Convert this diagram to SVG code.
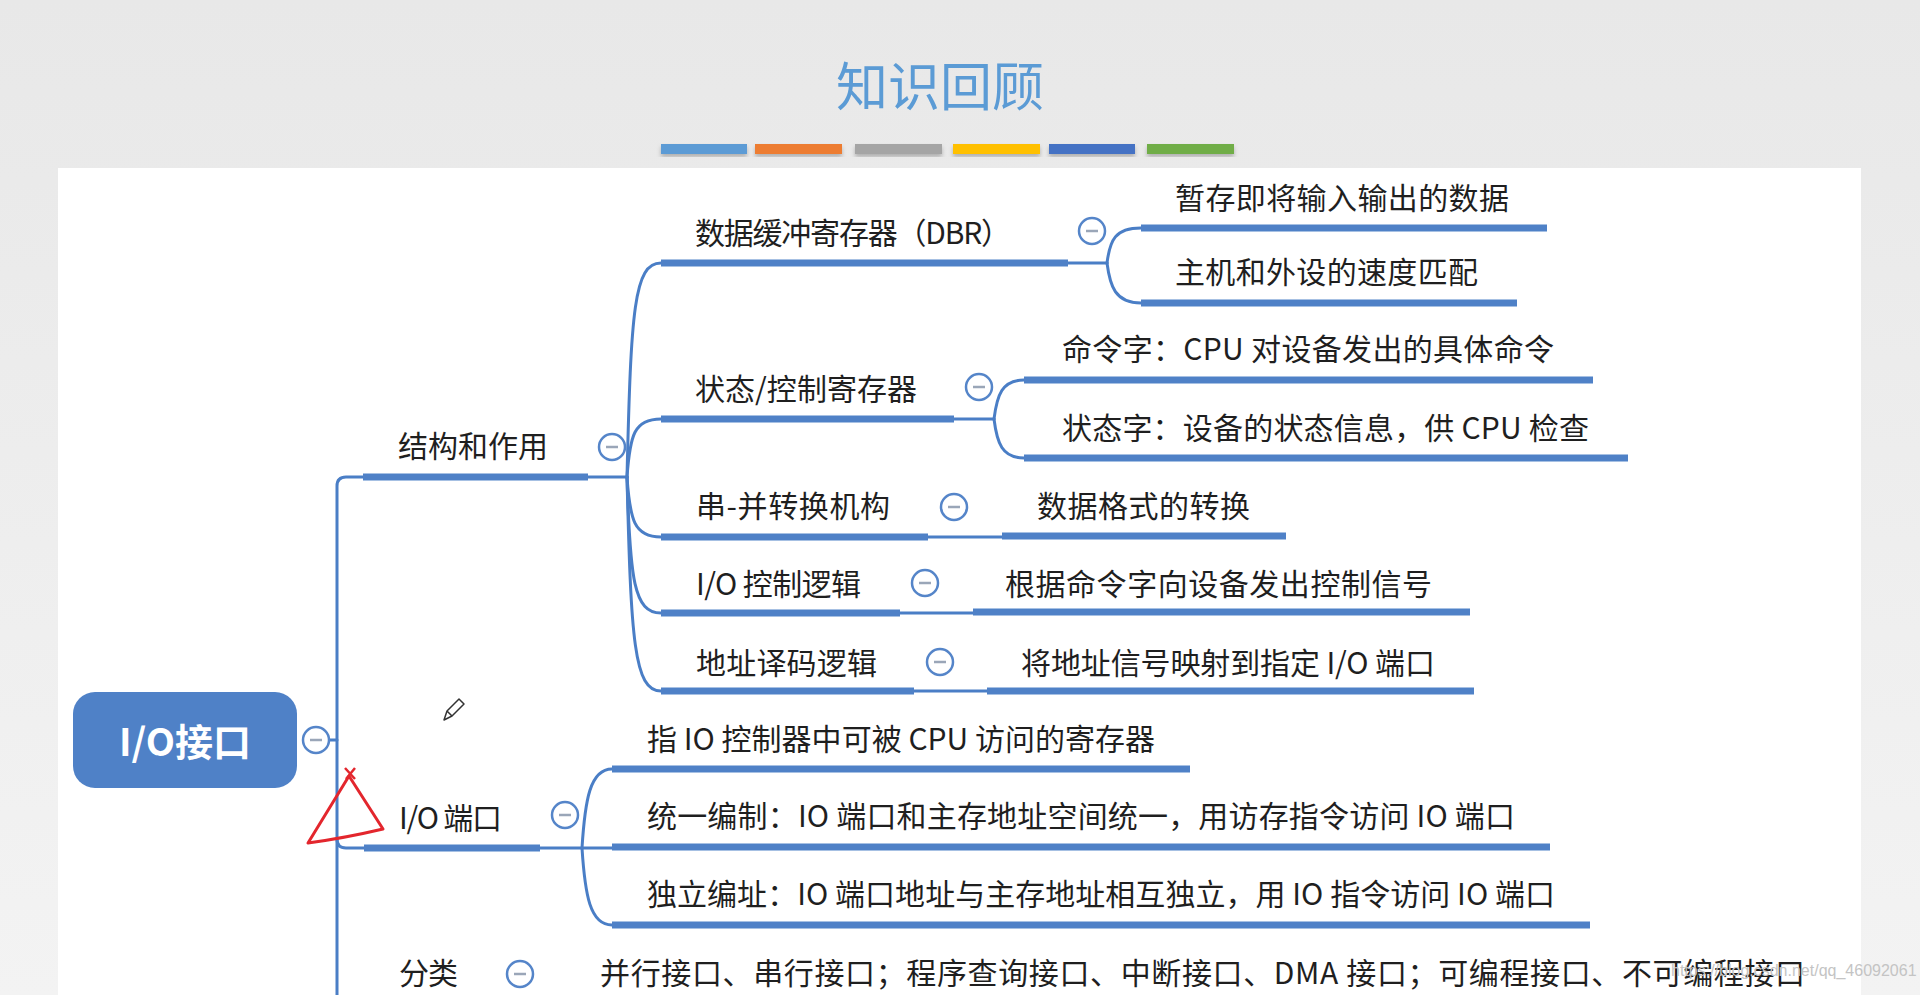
<svg xmlns="http://www.w3.org/2000/svg" width="1920" height="995" viewBox="0 0 1920 995">
<defs>
<linearGradient id="bg" x1="0" y1="0" x2="0" y2="1">
<stop offset="0" stop-color="#e8e8e8"/>
<stop offset="1" stop-color="#f3f3f3"/>
</linearGradient>
<filter id="sh" x="-5%" y="-5%" width="110%" height="130%">
<feDropShadow dx="0" dy="3" stdDeviation="2" flood-color="#000" flood-opacity="0.25"/>
</filter>
</defs>
<style>
.t{font-family:"Noto Sans CJK SC","Noto Sans",sans-serif;font-size:30px;fill:#1f1f1f}
.ul{stroke:#4f81c7;stroke-width:7;stroke-linecap:butt;fill:none}
.cn{stroke:#4a7ec6;stroke-width:3;fill:none;stroke-linecap:round}
.btn circle{fill:#fff;stroke:#5585c9;stroke-width:2.5}
.btn line{stroke:#9aa6b8;stroke-width:2.5}
</style>
<rect x="0" y="0" width="1920" height="995" fill="url(#bg)"/>
<rect x="58" y="168" width="1803" height="827" fill="#ffffff"/>
<text x="940" y="106" text-anchor="middle" font-family="Noto Sans CJK SC,sans-serif" font-size="52" fill="#5b9bd5">知识回顾</text>
<g filter="url(#sh)">
<rect x="661" y="144" width="86" height="10" fill="#5b9bd5"/>
<rect x="755" y="144" width="87" height="10" fill="#ed7d31"/>
<rect x="855" y="144" width="87" height="10" fill="#a5a5a5"/>
<rect x="953" y="144" width="87" height="10" fill="#ffc000"/>
<rect x="1049" y="144" width="86" height="10" fill="#4472c4"/>
<rect x="1147" y="144" width="87" height="10" fill="#70ad47"/>
</g>

<g id="connectors">
<path class="cn" d="M329,740 L337,740"/>
<path class="cn" d="M337,995 L337,486 Q337,477 346,477 L363,477"/>
<path class="cn" d="M337,839 Q337,848 346,848 L364,848"/>
<path class="cn" d="M588,477 L627,477"/>
<path class="cn" d="M627,477 C631,310 634,263 661,263"/>
<path class="cn" d="M627,477 C630,435 634,419 661,419"/>
<path class="cn" d="M627,477 C630,520 634,537 661,537"/>
<path class="cn" d="M627,477 C630,580 634,613 661,613"/>
<path class="cn" d="M627,477 C631,640 634,691 661,691"/>
<path class="cn" d="M1068,263 L1107,263"/>
<path class="cn" d="M1107,263 C1110,240 1115,228 1141,228"/>
<path class="cn" d="M1107,263 C1110,286 1115,303 1141,303"/>
<path class="cn" d="M954,419 L994,419"/>
<path class="cn" d="M994,419 C997,395 1002,380 1024,380"/>
<path class="cn" d="M994,419 C997,443 1002,458 1024,458"/>
<path class="cn" d="M928,537 L1002,537"/>
<path class="cn" d="M900,613 L973,613"/>
<path class="cn" d="M914,691 L987,691"/>
<path class="cn" d="M540,848 L582,848"/>
<path class="cn" d="M582,848 C585,800 590,769 612,769"/>
<path class="cn" d="M582,848 L612,848"/>
<path class="cn" d="M582,848 C585,895 590,925 612,925"/>
</g>

<g id="root">
<rect x="73" y="692" width="224" height="96" rx="22" fill="#4f81c7"/>
<text x="185" y="756" text-anchor="middle" font-family="Noto Sans CJK SC,sans-serif" font-size="38" font-weight="bold" fill="#ffffff">I/O接口</text>
<g class="btn"><circle cx="316" cy="740" r="13"/><line x1="310" y1="740" x2="322" y2="740"/></g>
</g>

<g id="n-jiegou">
<path class="ul" d="M363,477 L588,477"/>
<text class="t" x="398" y="457" textLength="150" lengthAdjust="spacing">结构和作用</text>
<g class="btn"><circle cx="612" cy="447" r="13"/><line x1="606" y1="447" x2="618" y2="447"/></g>
</g>

<g id="n-dbr">
<path class="ul" d="M661,263 L1068,263"/>
<text class="t" x="695" y="244" textLength="316" lengthAdjust="spacing">数据缓冲寄存器（DBR）</text>
<g class="btn"><circle cx="1092" cy="231" r="13"/><line x1="1086" y1="231" x2="1098" y2="231"/></g>
</g>
<g id="n-dbr1">
<path class="ul" d="M1141,228 L1547,228"/>
<text class="t" x="1175" y="209" textLength="334" lengthAdjust="spacing">暂存即将输入输出的数据</text>
</g>
<g id="n-dbr2">
<path class="ul" d="M1141,303 L1517,303"/>
<text class="t" x="1175" y="283" textLength="303" lengthAdjust="spacing">主机和外设的速度匹配</text>
</g>

<g id="n-zt">
<path class="ul" d="M661,419 L954,419"/>
<text class="t" x="695" y="400" textLength="222" lengthAdjust="spacing">状态/控制寄存器</text>
<g class="btn"><circle cx="979" cy="387" r="13"/><line x1="973" y1="387" x2="985" y2="387"/></g>
</g>
<g id="n-zt1">
<path class="ul" d="M1024,380 L1593,380"/>
<text class="t" x="1062" y="360" textLength="492" lengthAdjust="spacing">命令字：CPU 对设备发出的具体命令</text>
</g>
<g id="n-zt2">
<path class="ul" d="M1024,458 L1628,458"/>
<text class="t" x="1062" y="439" textLength="527" lengthAdjust="spacing">状态字：设备的状态信息，供 CPU 检查</text>
</g>

<g id="n-cb">
<path class="ul" d="M661,537 L928,537"/>
<text class="t" x="696" y="517" textLength="194" lengthAdjust="spacing">串-并转换机构</text>
<g class="btn"><circle cx="954" cy="507" r="13"/><line x1="948" y1="507" x2="960" y2="507"/></g>
</g>
<g id="n-cb1">
<path class="ul" d="M1002,536 L1286,536"/>
<text class="t" x="1037" y="517" textLength="213" lengthAdjust="spacing">数据格式的转换</text>
</g>

<g id="n-kz">
<path class="ul" d="M661,613 L900,613"/>
<text class="t" x="696" y="595" textLength="165" lengthAdjust="spacing">I/O 控制逻辑</text>
<g class="btn"><circle cx="925" cy="583" r="13"/><line x1="919" y1="583" x2="931" y2="583"/></g>
</g>
<g id="n-kz1">
<path class="ul" d="M973,612 L1470,612"/>
<text class="t" x="1005" y="595" textLength="427" lengthAdjust="spacing">根据命令字向设备发出控制信号</text>
</g>

<g id="n-ym">
<path class="ul" d="M661,691 L914,691"/>
<text class="t" x="696" y="674" textLength="181" lengthAdjust="spacing">地址译码逻辑</text>
<g class="btn"><circle cx="940" cy="662" r="13"/><line x1="934" y1="662" x2="946" y2="662"/></g>
</g>
<g id="n-ym1">
<path class="ul" d="M987,691 L1474,691"/>
<text class="t" x="1021" y="674" textLength="414" lengthAdjust="spacing">将地址信号映射到指定 I/O 端口</text>
</g>

<g id="n-port">
<path class="ul" d="M364,848 L540,848"/>
<text class="t" x="399" y="829" textLength="103" lengthAdjust="spacing">I/O 端口</text>
<g class="btn"><circle cx="565" cy="815" r="13"/><line x1="559" y1="815" x2="571" y2="815"/></g>
</g>
<g id="n-port1">
<path class="ul" d="M612,769 L1190,769"/>
<text class="t" x="647" y="750" textLength="508" lengthAdjust="spacing">指 IO 控制器中可被 CPU 访问的寄存器</text>
</g>
<g id="n-port2">
<path class="ul" d="M612,847 L1550,847"/>
<text class="t" x="647" y="827" textLength="868" lengthAdjust="spacing">统一编制：IO 端口和主存地址空间统一，用访存指令访问 IO 端口</text>
</g>
<g id="n-port3">
<path class="ul" d="M612,925 L1590,925"/>
<text class="t" x="647" y="905" textLength="908" lengthAdjust="spacing">独立编址：IO 端口地址与主存地址相互独立，用 IO 指令访问 IO 端口</text>
</g>

<g id="n-fl">
<text class="t" x="399" y="984" textLength="59" lengthAdjust="spacing">分类</text>
<g class="btn"><circle cx="520" cy="974" r="13"/><line x1="514" y1="974" x2="526" y2="974"/></g>
</g>
<g id="n-fl1">
<text class="t" x="600" y="984" textLength="1205" lengthAdjust="spacing">并行接口、串行接口；程序查询接口、中断接口、DMA 接口；可编程接口、不可编程接口</text>
</g>

<g id="annotation">
<path d="M349,776 L308,843 Q345,838 383,829 Z" fill="none" stroke="#e3262d" stroke-width="3" stroke-linejoin="round"/>
<path d="M345,768 L355,779 M355,768 L346,779" stroke="#e3262d" stroke-width="2.5" fill="none"/>
<path d="M444,720 L447,711 L459,699 L464,704 L452,716 Z M447,711 L452,716" fill="#fff" stroke="#333" stroke-width="1.5" stroke-linejoin="round"/>
</g>
<text x="1671" y="976" font-family="Liberation Sans,sans-serif" font-size="16" fill="#c4c4c4">https://blog.csdn.net/qq_46092061</text>
</svg>
